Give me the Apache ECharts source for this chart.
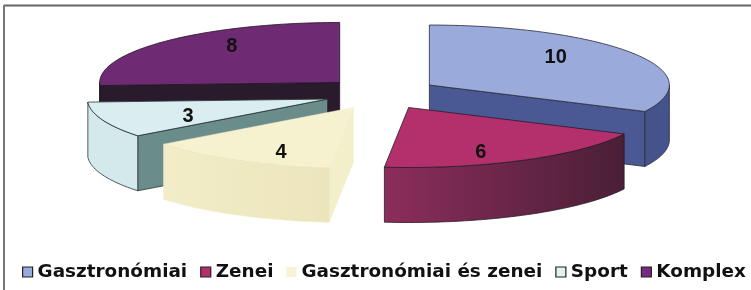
<!DOCTYPE html>
<html><head><meta charset="utf-8">
<script src="https://cdn.jsdelivr.net/npm/echarts/dist/echarts.min.js"></script>
<style>html,body{margin:0;padding:0;background:#fff}#c{width:751px;height:290px}</style>
</head><body><div id="c"></div>
<script>
// ---- data ----
const CATEGORIES = ['Gasztronómiai', 'Zenei', 'Gasztronómiai és zenei', 'Sport', 'Komplex'];
const VALUES = [10, 6, 4, 3, 8];

// ---- styles ----
const TOP_COLORS    = ['#9aaadb', '#b4306c', '#f6f1cf', '#daeef1', '#6e2b73'];
const RADIAL_COLORS = ['#4a5994', '#6a2447', '#f4efcb', '#6a8c8a', '#2a1b2c'];
const OUTER_COLORS  = [
  '#45538c',
  {type:'linear', x:0, y:0, x2:1, y2:0, colorStops:[{offset:0,color:'#8c2d5c'},{offset:1,color:'#4a1f36'}]},
  {type:'linear', x:0, y:0, x2:1, y2:0, colorStops:[{offset:0,color:'#f2edc8'},{offset:1,color:'#ece5bc'}]},
  '#d3e9ec',
  '#2a1b2c'
];
const STROKES = ['#2a2a3a', '#2a1a24', null, '#2a3333', '#1e1420'];
const LEGEND_COLORS = ['#9aaadb', '#b4306c', '#f7f3d6', '#e0f1f1', '#782a82'];
const LEGEND_BORDERS = ['#222', '#222', null, '#222', '#222'];

// ---- layout of the 3D pie ----
const L = {cx: 381, cy: 93.5, rx: 240, ry: 60, depth: 55, ex: 57, ey: 16};
const DEG = Math.PI / 180;
const total = VALUES.reduce((a, b) => a + b, 0);
const slices = [];
let acc = 0;
VALUES.forEach(v => {
  const a = acc / total * 360; acc += v; const b = acc / total * 360; const m = (a + b) / 2;
  slices.push({a, b, m, cx: L.cx + L.ex * Math.sin(m * DEG), cy: L.cy - L.ey * Math.cos(m * DEG)});
});
const order = slices.map((s, i) => i).sort((p, q) => slices[p].cy - slices[q].cy);
const rank = slices.map((s, i) => order.indexOf(i));

function rim(s, deg, dz) {
  return [s.cx + L.rx * Math.sin(deg * DEG), s.cy - L.ry * Math.cos(deg * DEG) + dz];
}
function poly(points, fill, stroke, z2) {
  return {type: 'polygon', z2: z2, silent: true,
    shape: {points: points},
    style: {fill: fill, stroke: stroke || fill, lineWidth: stroke ? 0.8 : 0.5, lineJoin: 'round'}};
}
function arcPts(s, from, to, dz) {
  const pts = []; const n = Math.max(2, Math.ceil((to - from) / 1.5));
  for (let k = 0; k <= n; k++) pts.push(rim(s, from + (to - from) * k / n, dz));
  return pts;
}
function renderItem(params, api) {
  const i = params.seriesIndex; const s = slices[i]; const z = rank[i] * 10;
  const ch = [];
  const radial = deg => [[s.cx, s.cy], rim(s, deg, 0), rim(s, deg, L.depth), [s.cx, s.cy + L.depth]];
  if (Math.sin(s.a * DEG) < -1e-6) ch.push(poly(radial(s.a), RADIAL_COLORS[i], STROKES[i], z + 1));
  if (Math.sin(s.b * DEG) > 1e-6) ch.push(poly(radial(s.b), RADIAL_COLORS[i], STROKES[i], z + 1));
  const lo = Math.max(s.a, 90), hi = Math.min(s.b, 270);
  if (hi > lo) {
    const topArc = arcPts(s, lo, hi, 0);
    const botArc = arcPts(s, lo, hi, L.depth).reverse();
    ch.push(poly(topArc.concat(botArc), OUTER_COLORS[i], STROKES[i], z + 2));
  }
  const top = [[s.cx, s.cy]].concat(arcPts(s, s.a, s.b, 0));
  ch.push(poly(top, TOP_COLORS[i], STROKES[i], z + 3));
  const val = api.value(0);
  ch.push({type: 'text', z2: 200, silent: true,
    style: {text: String(val),
      x: s.cx + 0.62 * L.rx * Math.sin(s.m * DEG),
      y: s.cy - 0.86 * L.ry * Math.cos(s.m * DEG),
      align: 'center', verticalAlign: 'middle',
      font: 'bold 20px "Liberation Sans", Arial, sans-serif', fill: '#111'}});
  return {type: 'group', children: ch};
}

const chart = echarts.init(document.getElementById('c'), null, {renderer: 'canvas'});
chart.setOption({
  animation: false,
  backgroundColor: '#ffffff',
  legend: {
    left: 17, top: 258, width: 740, padding: 5,
    itemWidth: 10, itemHeight: 10, itemGap: 13,
    selectedMode: false,
    textStyle: {fontFamily: '"DejaVu Sans", sans-serif', fontWeight: 'bold', fontSize: 18.4, color: '#111', lineHeight: 18},
    data: CATEGORIES.map((n, i) => ({name: n, icon: 'rect',
      itemStyle: {color: LEGEND_COLORS[i], borderColor: LEGEND_BORDERS[i] || LEGEND_COLORS[i], borderWidth: LEGEND_BORDERS[i] ? 1.2 : 0}}))
  },
  graphic: [
    {type: 'line', shape: {x1: 4, y1: 5.5, x2: 751, y2: 5.5}, style: {stroke: '#666', lineWidth: 2}, silent: true},
    {type: 'line', shape: {x1: 4, y1: 5, x2: 4, y2: 290}, style: {stroke: '#777', lineWidth: 2}, silent: true}
  ],
  series: CATEGORIES.map((n, i) => ({
    type: 'custom', name: n, coordinateSystem: 'none', silent: true,
    itemStyle: {color: LEGEND_COLORS[i]},
    data: [[VALUES[i]]],
    renderItem: renderItem
  }))
});
</script>
</body></html>
